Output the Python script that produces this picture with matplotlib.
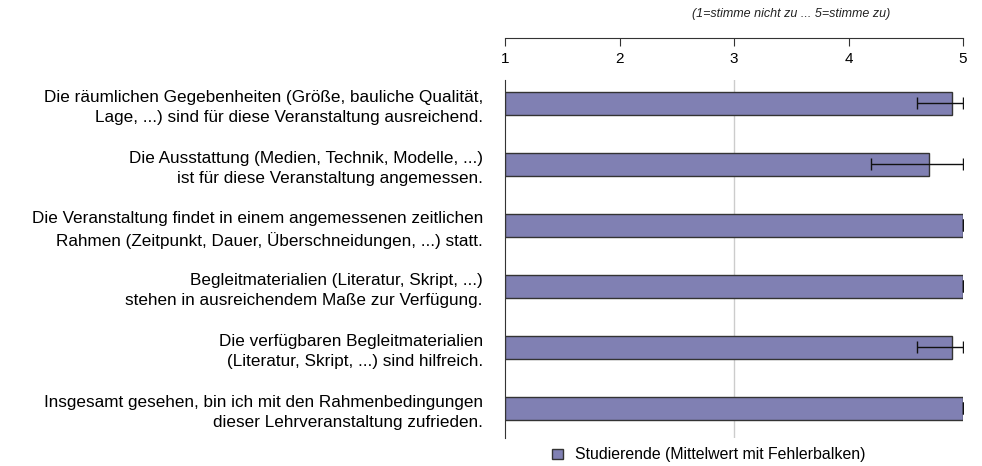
import matplotlib
matplotlib.use("Agg")
import matplotlib.pyplot as plt
from matplotlib.patches import Patch

plt.rcParams['font.family'] = ['Liberation Sans', 'DejaVu Sans']

categories = [
    "Die räumlichen Gegebenheiten (Größe, bauliche Qualität,\nLage, ...) sind für diese Veranstaltung ausreichend.",
    "Die Ausstattung (Medien, Technik, Modelle, ...)\nist für diese Veranstaltung angemessen.",
    "Die Veranstaltung findet in einem angemessenen zeitlichen\nRahmen (Zeitpunkt, Dauer, Überschneidungen, ...) statt.",
    "Begleitmaterialien (Literatur, Skript, ...)\nstehen in ausreichendem Maße zur Verfügung.",
    "Die verfügbaren Begleitmaterialien\n(Literatur, Skript, ...) sind hilfreich.",
    "Insgesamt gesehen, bin ich mit den Rahmenbedingungen\ndieser Lehrveranstaltung zufrieden.",
]
means = [4.9, 4.7, 5.0, 5.0, 4.9, 5.0]
err_low = [0.3, 0.5, 0.0, 0.0, 0.3, 0.0]
err_high = [0.1, 0.3, 0.0, 0.0, 0.1, 0.0]
ticks = [1, 2, 3, 4, 5]
legend_label = "Studierende (Mittelwert mit Fehlerbalken)"
subtitle = "(1=stimme nicht zu ... 5=stimme zu)"

W, H = 982, 466
fig = plt.figure(figsize=(W / 100, H / 100), dpi=100)

def box(x0, y0, x1, y1):
    return [x0 / W, (H - y1) / H, (x1 - x0) / W, (y1 - y0) / H]

ax = fig.add_axes(box(505, 80, 963, 438))
ypos = list(range(len(categories)))
ax.barh(ypos, [m - 1 for m in means], left=1, height=0.377,
        color='#8080b3', edgecolor='#333333', linewidth=1, zorder=3)
ax.errorbar(means, ypos, xerr=[err_low, err_high], fmt='none',
            ecolor='#111111', elinewidth=1, capsize=4, capthick=1, zorder=4)
ax.axvline(3, color='#cccccc', lw=1, zorder=1)
ax.set_xlim(1, 5)
ax.set_ylim(5.484, -0.385)
for s in ['top', 'right', 'bottom']:
    ax.spines[s].set_visible(False)
ax.spines['left'].set_color('#333333')
ax.set_xticks([])
ax.set_yticks(ypos)
ax.set_yticklabels(categories, fontsize=12.3, linespacing=1.45)
ax.tick_params(axis='y', length=0, pad=16)

sc = fig.add_axes(box(505, 38, 963, 46))
sc.set_xlim(1, 5)
for s in ['left', 'right', 'bottom']:
    sc.spines[s].set_visible(False)
sc.spines['top'].set_color('#333333')
sc.set_yticks([])
sc.set_xticks(ticks)
sc.set_xticklabels([str(t) for t in ticks])
sc.tick_params(axis='x', which='both', top=True, bottom=False, labeltop=False,
               labelbottom=True, direction='in', length=6, pad=4, labelsize=11,
               color='#333333')

fig.text(791 / W, (H - 14) / H, subtitle, ha='center', va='center',
         fontsize=9, style='italic', color='#222222')

handle = Patch(facecolor='#8080b3', edgecolor='#333333', linewidth=1)
fig.legend([handle], [legend_label], loc='center left',
           bbox_to_anchor=(552 / W, (H - 455) / H), frameon=False,
           fontsize=11.4, handlelength=0.68, handleheight=0.68, handletextpad=0.75,
           borderaxespad=0, borderpad=0)

fig.savefig("out.png", dpi=100)
